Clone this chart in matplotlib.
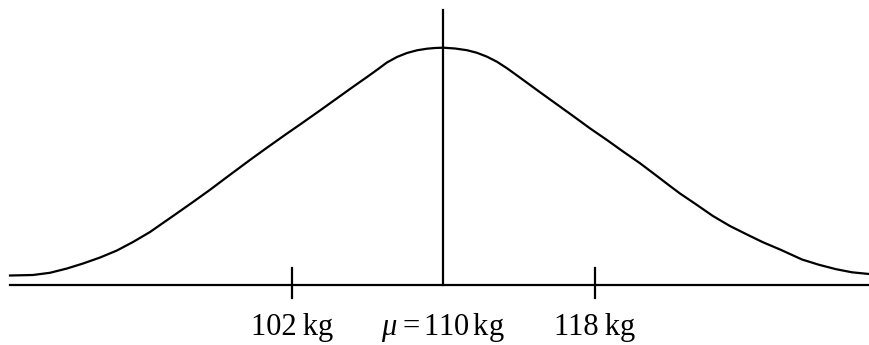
import matplotlib
matplotlib.use("Agg")
import matplotlib.pyplot as plt

# Curve: weight (kg) vs relative height
curve_kg = [87.10, 88.31, 89.21, 90.11, 90.96, 91.86, 92.75, 93.60, 94.50, 95.03,
            95.92, 96.77, 97.67, 98.57, 99.78, 100.68, 101.74, 102.43, 103.48, 105.23,
            105.97, 106.50, 107.02, 107.55, 108.08, 108.61, 109.14, 109.56, 110.00,
            110.62, 111.25, 111.78, 112.31, 112.84, 113.37, 113.90, 115.11, 116.86,
            117.75, 118.65, 119.50, 120.40, 121.29, 121.98, 122.51, 123.41, 124.25,
            125.15, 126.05, 126.90, 127.80, 128.96, 129.86, 130.76, 131.60, 132.50]
curve_h = [9.5, 10.0, 12.2, 16.5, 21.5, 27.5, 34.5, 43.0, 53.0, 60.0,
           71.7, 83.0, 95.2, 108.0, 125.0, 137.3, 151.5, 160.5, 174.5, 198.2,
           208.0, 215.2, 222.5, 228.0, 232.0, 234.7, 236.3, 237.0, 237.3,
           236.5, 234.8, 232.2, 228.3, 223.2, 216.7, 209.5, 192.8, 169.0,
           156.7, 145.0, 133.5, 121.7, 109.0, 99.0, 91.5, 80.0, 69.0,
           59.0, 50.5, 42.7, 35.5, 25.5, 20.2, 15.8, 12.7, 11.0]

mean_kg = 110
tick_kg = [102, 118]
tick_labels = ["102\u2009kg", "118\u2009kg"]

plt.rcParams['mathtext.fontset'] = 'custom'
plt.rcParams['mathtext.rm'] = 'Liberation Serif'
plt.rcParams['mathtext.it'] = 'Liberation Serif:italic'

fig = plt.figure(figsize=(8.69, 3.45), dpi=100)
ax = fig.add_axes([0, 0, 1, 1])
ax.set_xlim(86.57, 132.5)
ax.set_ylim(-60, 285)
ax.axis('off')

lw = 1.6
ax.plot(curve_kg, curve_h, color='black', lw=lw, solid_joinstyle='round')
# baseline
ax.plot([curve_kg[0], 132.6], [0, 0], color='black', lw=lw)
# mean line
ax.plot([mean_kg, mean_kg], [0, 275], color='black', lw=lw)
# ticks
for t in tick_kg:
    ax.plot([t, t], [-13, 17], color='black', lw=lw)

font = dict(family='Liberation Serif', size=22, va='baseline', ha='center')
for t, lab in zip(tick_kg, tick_labels):
    ax.text(t, -50, lab, **font)
ax.text(mean_kg, -50, r"$\mathit{\mu}\;$=$\,$110$\,$kg", **font)

fig.savefig("out.png", dpi=100)
